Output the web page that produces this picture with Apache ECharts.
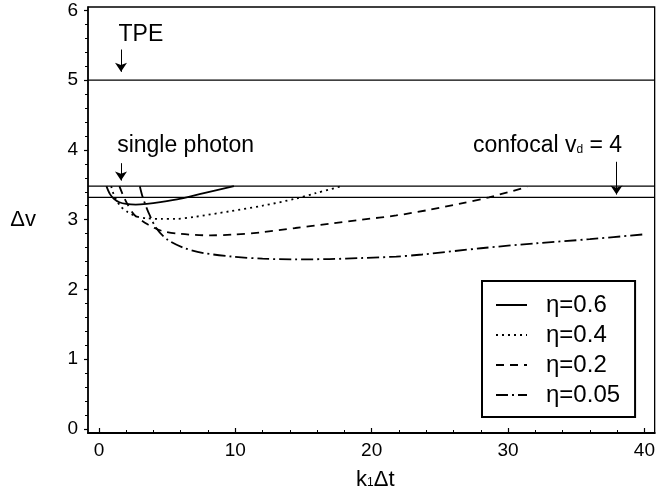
<!DOCTYPE html>
<html>
<head>
<meta charset="utf-8">
<script src="https://cdn.jsdelivr.net/npm/echarts@6/dist/echarts.min.js"></script>
<style>
  html, body { margin: 0; padding: 0; background: #fff; }
  #chart { width: 658px; height: 497px; }
</style>
</head>
<body>
<div id="chart"></div>
<script>
// values: [k1*dt, delta v]
const names = ["η=0.6", "η=0.4", "η=0.2", "η=0.05"];
const eta06 = [[0.55, 3.48], [0.8, 3.37], [1.1, 3.3], [1.5, 3.25], [2.0, 3.225], [2.7, 3.215],
  [3.5, 3.225], [4.5, 3.25], [6.0, 3.3], [7.7, 3.38], [9.9, 3.48]];
const eta04 = [[0.9, 3.48], [1.15, 3.33], [1.6, 3.19], [2.1, 3.11], [2.7, 3.05], [3.5, 3.02],
  [4.6, 3.01], [5.6, 3.01], [7.0, 3.04], [9.6, 3.12], [12.0, 3.2], [14.4, 3.3], [15.9, 3.38], [17.8, 3.48]];
const eta02 = [[1.5, 3.48], [1.75, 3.36], [2.1, 3.22], [2.6, 3.07], [3.6, 2.93], [4.6, 2.84],
  [6.0, 2.795], [8.2, 2.775], [9.8, 2.785], [12.0, 2.82], [14.4, 2.88], [16.9, 2.94], [19.3, 3.0],
  [21.8, 3.06], [24.2, 3.14], [26.5, 3.23], [28.6, 3.32], [31.4, 3.47]];
const eta005 = [[3.0, 3.48], [3.2, 3.33], [3.6, 3.12], [4.2, 2.88], [5.05, 2.71], [6.3, 2.59],
  [7.7, 2.52], [9.8, 2.47], [12.0, 2.44], [14.4, 2.43], [16.9, 2.435], [19.3, 2.45], [21.8, 2.47],
  [23.7, 2.5], [28.0, 2.59], [32.0, 2.66], [36.0, 2.72], [40.0, 2.79]];
const curves = [eta06, eta04, eta02, eta005];
const dashes = ["solid", [2, 4], [8, 6], [12, 4, 2, 4]];

const levels = [5, 3.48, 3.32];          // TPE, single photon, confocal
const xRange = [-0.8, 40.75];
const yRange = [-0.06, 6.05];
const xTicks = [0, 10, 20, 30, 40];
const xMinor = [2, 4, 6, 8, 12, 14, 16, 18, 22, 24, 26, 28, 32, 34, 36, 38];
const yTicks = [0, 1, 2, 3, 4, 5, 6];
const yMinor = [0.2, 0.4, 0.6, 0.8, 1.2, 1.4, 1.6, 1.8, 2.2, 2.4, 2.6, 2.8, 3.2, 3.4, 3.6, 3.8,
  4.2, 4.4, 4.6, 4.8, 5.2, 5.4, 5.6, 5.8];

const notes = ["TPE", "single photon", "confocal"];
const noteAt = [[1.4, 5.65], [1.3, 4.06], [38.4, 4.06]];
const arrows = [[[1.62, 5.44], [1.62, 5.12]], [[1.62, 3.81], [1.62, 3.56]], [[37.95, 3.83], [37.95, 3.36]]];

const FONT = "Liberation Sans, Arial, Helvetica, sans-serif";
const chart = echarts.init(document.getElementById("chart"));

const series = curves.map((d, i) => ({
  name: names[i],
  type: "line",
  data: d,
  smooth: 0.3,
  showSymbol: false,
  symbol: "none",
  silent: true,
  lineStyle: { color: "#000", width: 1.8, type: dashes[i] },
  itemStyle: { color: "#000" },
}));

levels.forEach((v, i) => {
  const s = {
    name: "level" + i,
    type: "line",
    data: [[xRange[0], v], [xRange[1], v]],
    symbol: "none",
    silent: true,
    lineStyle: { color: "#000", width: 1.3 },
  };
  if (i === 0) {
    s.markLine = {
      silent: true,
      symbol: ["none", "arrow"],
      symbolSize: 9,
      label: { show: false },
      lineStyle: { color: "#000", width: 1, type: "solid" },
      data: arrows.map((a) => [{ coord: a[0] }, { coord: a[1] }]),
    };
    s.markPoint = {
      silent: true,
      symbol: "rect",
      symbolSize: 1,
      itemStyle: { color: "rgba(0,0,0,0)" },
      data: notes.map((t, j) => ({
        coord: noteAt[j],
        value: t,
        label: {
          show: true,
          position: j === 2 ? "left" : "right",
          distance: 0,
          color: "#000",
          fontFamily: FONT,
          fontSize: 23,
          formatter: j === 2 ? "{a|confocal v}{s|d}{a| = 4}" : t,
          rich: {
            a: { fontFamily: FONT, fontSize: 23, color: "#000" },
            s: { fontFamily: FONT, fontSize: 12, color: "#000", verticalAlign: "bottom", padding: [0, 0, 2, 0] },
          },
        },
      })),
    };
  }
  series.push(s);
});

const option = {
  animation: false,
  backgroundColor: "#fff",
  textStyle: { fontFamily: FONT },
  grid: { left: 88, right: 2, top: 7, bottom: 64, show: true, borderColor: "#000", borderWidth: 1.3 },
  legend: {
    data: names,
    orient: "vertical",
    left: 482,
    top: 281,
    borderColor: "#000",
    borderWidth: 2,
    padding: [12, 15, 10, 13],
    itemWidth: 31,
    itemHeight: 14,
    itemGap: 6,
    itemStyle: { opacity: 0 },
    textStyle: { fontFamily: FONT, fontSize: 24, color: "#000", lineHeight: 22, padding: [0, 0, 0, 14] },
  },
  xAxis: [
    {
      type: "value",
      min: xRange[0],
      max: xRange[1],
      position: "bottom",
      name: "{a|k}{s|1}{a|Δt}",
      nameLocation: "middle",
      nameGap: 36,
      nameTextStyle: {
        padding: [0, 0, 0, 8],
        rich: {
          a: { fontFamily: FONT, fontSize: 22, color: "#000" },
          s: { fontFamily: FONT, fontSize: 12, color: "#000", verticalAlign: "bottom", padding: [0, 0, 2, 0] },
        },
      },
      axisLine: { show: true, onZero: false, lineStyle: { color: "#000", width: 2 } },
      axisTick: { show: true, inside: true, length: 5, customValues: xTicks, lineStyle: { color: "#000", width: 1.2 } },
      axisLabel: { customValues: xTicks, color: "#000", fontSize: 19, fontFamily: FONT, margin: 8 },
      splitLine: { show: false },
    },
    {
      type: "value",
      min: xRange[0],
      max: xRange[1],
      position: "bottom",
      axisLine: { show: false, onZero: false },
      axisTick: { show: true, inside: true, length: 3, customValues: xMinor, lineStyle: { color: "#000", width: 1 } },
      axisLabel: { show: false },
      splitLine: { show: false },
    },
  ],
  yAxis: [
    {
      type: "value",
      min: yRange[0],
      max: yRange[1],
      position: "left",
      name: "Δv",
      nameLocation: "middle",
      nameRotate: 0,
      nameGap: 52,
      nameTextStyle: { fontFamily: FONT, fontSize: 22, color: "#000" },
      axisLine: { show: true, onZero: false, lineStyle: { color: "#000", width: 1.5 } },
      axisTick: { show: true, inside: false, length: 4, customValues: yTicks, lineStyle: { color: "#000", width: 1.2 } },
      axisLabel: { customValues: yTicks, color: "#000", fontSize: 19, fontFamily: FONT, margin: 10 },
      splitLine: { show: false },
    },
    {
      type: "value",
      min: yRange[0],
      max: yRange[1],
      position: "left",
      axisLine: { show: false, onZero: false },
      axisTick: { show: true, inside: false, length: 3, customValues: yMinor, lineStyle: { color: "#000", width: 1 } },
      axisLabel: { show: false },
      splitLine: { show: false },
    },
  ],
  series: series,
};

chart.setOption(option);
</script>
</body>
</html>
